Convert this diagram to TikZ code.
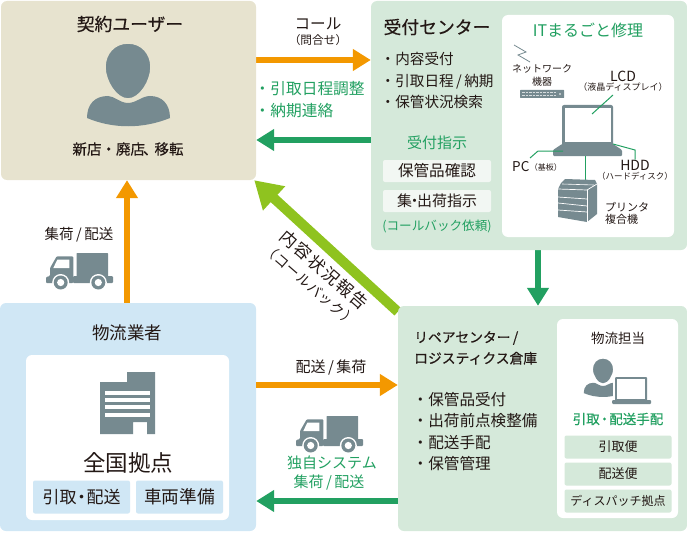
\documentclass[tikz,border=0pt]{standalone}
\usepackage{fontspec}
\setmainfont{Noto Sans CJK JP}
\newfontfamily\medfont[FakeBold=0.4]{Noto Sans CJK JP}
\usetikzlibrary{arrows.meta,backgrounds}

\definecolor{usercol}{HTML}{E7E3CF}
\definecolor{centercol}{HTML}{D5E9DA}
\definecolor{logicol}{HTML}{D0E7F5}
\definecolor{subcol}{HTML}{F2F7F3}
\definecolor{iconcol}{HTML}{768A90}
\definecolor{orangecol}{HTML}{F39800}
\definecolor{greencol}{HTML}{22A061}
\definecolor{limecol}{HTML}{8FC31F}
\definecolor{inkcol}{HTML}{231815}

\tikzset{
	fs/.style={font=\fontsize{#1}{#1}\selectfont, text=inkcol, inner sep=0pt},
	lst/.style={font=\fontsize{#1}{21.5}\selectfont, text=inkcol, inner sep=0pt, align=left, anchor=north west},
	gtxt/.style={text=greencol},
	box/.style n args={3}{fill=#1, rounded corners=6pt, minimum width=#2pt, minimum height=#3pt, inner sep=0pt},
	subbox/.style n args={3}{fill=#1, rounded corners=2pt, minimum width=#2pt, minimum height=#3pt, inner sep=0pt},
	orangearrow/.style={draw=orangecol, line width=6pt, -{Triangle[length=18pt,width=21pt]}},
	greenarrow/.style={draw=greencol, line width=6pt, -{Triangle[length=18pt,width=21pt]}},
	limearrow/.style={draw=limecol, line width=10pt, -{Triangle[length=27pt,width=31pt]}},
	leader/.style={draw=greencol, line width=1pt},
	pics/truck/.style={code={
		\fill[iconcol, rounded corners=1pt] (0,29) -- (0,23) -- (4,22) -- (4,14) -- (10.7,2.3) -- (27.3,2.3) -- (27.3,29) -- cycle;
		\fill[white] (7.3,14) -- (11.3,5.7) -- (23.3,5.7) -- (23.3,14) -- cycle; %window
		\fill[iconcol, rounded corners=0.5pt] (30.7,-1) rectangle (62,27);
		\fill[iconcol, rounded corners=1pt] (27,22) rectangle (67,29);
		\foreach \wx in {14.7,52.3} {
			\fill[white] (\wx,28.5) circle[radius=8.5];
			\fill[iconcol] (\wx,28.5) circle[radius=7];
			\fill[white] (\wx,28.5) circle[radius=3.6];
		}
	}},
	pics/person/.style={code={
		\fill[iconcol] (-41,47) .. controls (-41,33) and (-33,25) .. (-20,25) .. controls (-14,25) and (-8,32) .. (0,32) .. controls (8,32) and (14,25) .. (22,25) .. controls (34,25) and (42,33) .. (42,47) .. controls (15,58) and (-15,58) .. (-41,47) -- cycle;
		\filldraw[fill=iconcol, draw=#1, line width=1.5pt] (0,-28) .. controls (14,-28) and (23,-17) .. (23,-4) .. controls (23,10) and (12,28) .. (0,28) .. controls (-12,28) and (-23,10) .. (-23,-4) .. controls (-23,-17) and (-14,-28) .. (0,-28) -- cycle;
	}}
}

\begin{document}
\begin{tikzpicture}[x=1pt,y=-1pt]
	\useasboundingbox (0,0) rectangle (687,532);

	%big boxes
	\node[box={usercol}{255}{179}] (user) at (128.5,90.5) {};
	\node[box={centercol}{316}{249}] (center) at (529,125.5) {};
	\node[box={logicol}{256}{228}] (logi) at (128,417) {};
	\node[box={centercol}{289}{225}] (repair) at (542.5,418.5) {};

	%white panels
	\node[box={white}{172}{222}] (itpanel) at (588,126) {};
	\node[box={white}{121}{199}] (staffpanel) at (617.5,418.5) {};
	\node[box={white}{203}{165}] (basepanel) at (127.5,437.5) {};

	%user
	\node[fs=17.8] (usertitle) at (130,24) {\medfont 契約ユーザー};
	\pic at (128,71) {person=usercol};
	\node[fs=14.5] (usermove) at (128,149) {\medfont 新店・廃店\kern-2pt、\kern-3pt 移転};

	%call arrows
	\coordinate (callrow) at (0,60);
	\coordinate (replyrow) at (0,140);
	\node[fs=15.6] (calltext) at (318,24) {コール};
	\node[fs=11.7] (callsub) at (318,40) {（問合せ）};
	\node[lst=15.7, gtxt] (replytext) at (254.5,81.5) {・引取日程調整\\・納期連絡};
	\begin{scope}[on background layer]
		\draw[orangearrow] (user.east |- callrow) -- (center.west |- callrow);
		\draw[greenarrow] (center.west |- replyrow) -- (user.east |- replyrow);
		\draw[limearrow] ([yshift=-6pt]repair.north west) -- ([xshift=-2pt]user.south east);
	\end{scope}

	%reception center
	\node[fs=17.8] (centertitle) at (437,27) {\medfont 受付センター};
	\node[lst=14.6] (centerlist) at (380.5,52) {・内容受付\\・引取日程\,/\,納期\\・保管状況検索};
	\node[fs=15, gtxt] (ordertext) at (437,143) {受付指示};
	\node[subbox={subcol}{108}{22}, fs=15.6] (checkbox) at (437,171) {保管品確認};
	\node[subbox={subcol}{108}{22}, fs=15] (shipbox) at (437,201) {集\kern-5pt・\kern-5pt 出荷指示};
	\node[fs=12.6, gtxt] (callback) at (437,226) {(コールバック依頼)};

	%it panel
	\node[fs=16, gtxt] (ittitle) at (588,30) {ITまるごと修理};
	\draw[iconcol, line width=0.8pt] (514,45) -- (526,52) -- (518,55) -- (530,62); %antenna
	\node[fs=10, align=center] (nettext) at (542,75.5) {ネットワーク\\[2.5pt]機器};
	\fill[iconcol, rounded corners=0.5pt] (520,90) rectangle (564,98);
	\draw[white!70!iconcol, line width=1pt, dash pattern=on 2.5pt off 1pt] (522,92.5) -- (556,92.5);
	\draw[white!70!iconcol, line width=1pt, dash pattern=on 2.5pt off 1pt] (522,95.5) -- (556,95.5);
	\fill[white] (560,94) circle[radius=0.8];

	\node[fs=14] (lcdtext) at (623,76) {LCD};
	\node[fs=9] (lcdsub) at (623,87) {（液晶ディスプレイ）};
	\node[fs=13.5, anchor=west] (pctext) at (512,167) {PC};
	\node[fs=8, anchor=west] (pcsub) at (pctext.east) {（基板）};
	\node[fs=14] (hddtext) at (635,165) {HDD};
	\node[fs=8.5] (hddsub) at (635,176) {（ハードディスク）};
	\node[fs=11, align=left, anchor=west] (printtext) at (605,213) {プリンタ\\[1pt]複合機};

	\fill[iconcol, rounded corners=2pt] (562,105) rectangle (613,146); %laptop
	\fill[white] (565,108) rectangle (611,142);
	\fill[iconcol, rounded corners=1pt] (553,150) -- (562,144) -- (613,144) -- (622,150) -- (622,156) -- (553,156) -- cycle;

	\coordinate (screen) at (592,114);
	\coordinate (lcdfoot) at (613,95);
	\coordinate (basel) at (563,151);
	\coordinate (baser) at (613,144);
	\coordinate (basem) at (585,156);
	\coordinate (printertop) at (585,180);
	\draw[leader] (screen) -- (lcdfoot);
	\draw[leader] (basel) -- (538,151) -- (530,158);
	\draw[leader] (baser) -- (635,150) -- (hddtext.north);
	\draw[leader] (basem) -- (printertop);

	\fill[iconcol] (558,189) -- (561,183) -- (565,179) -- (595,180) -- (597,184) -- (597,214) -- (587,222) -- (558,217) -- cycle; %printer
	\draw[white, line width=0.7pt] (558,189) -- (587,190) -- (597,184);
	\draw[white, line width=0.6pt] (562,184) -- (594,185);
	\draw[white, line width=0.7pt] (558,197) -- (587,199);
	\draw[white, line width=0.7pt] (558,203) -- (587,206);
	\draw[white, line width=0.7pt] (558,210) -- (587,212);
	\draw[white, line width=0.5pt] (587,190) -- (587,222);

	%green arrow down
	\begin{scope}[on background layer]
		\draw[greenarrow] (center.south -| 538,0) -- (repair.north -| 538,0);
	\end{scope}

	%lime label
	\node[fs=17, rotate=-41] (reporttext) at (324,270) {\addfontfeature{LetterSpace=10}内容状況報告};
	\node[fs=14, rotate=-41] (reportsub) at (310,285) {\addfontfeature{LetterSpace=5}（コールバック）};

	%logistics
	\draw[orangearrow] (logi.north -| 127,0) -- (user.south -| 127,0);
	\node[fs=14.5] (pickuptext) at (79,235) {集荷\,/\,配送};
	\pic at (46,254) {truck};

	\node[fs=17.5] (logititle) at (127,333) {物流業者};
	\fill[iconcol] (100,382) -- (127,382) -- (127,372) -- (155,372) -- (155,434) -- (147,434) -- (147,422) -- (133,422) -- (133,434) -- (100,434) -- cycle; %building
	\foreach \fy in {391,398,405,413} {
		\fill[white] (105,\fy) rectangle (150,\fy+3.7);
	}
	\node[fs=22.5] (basetext) at (128,463) {全国拠点};
	\node[subbox={logicol}{97}{33}, fs=17] (pickbox) at (81.5,497) {引取\kern-3.5pt・\kern-3.5pt 配送};
	\node[subbox={logicol}{87}{33}, fs=17.7] (carbox) at (179.5,497) {車両準備};

	%lower arrows
	\coordinate (sendrow) at (0,385);
	\coordinate (ownrow) at (0,501);
	\draw[orangearrow] (logi.east |- sendrow) -- (repair.west |- sendrow);
	\draw[greenarrow] (repair.west |- ownrow) -- (logi.east |- ownrow);
	\node[fs=15] (sendtext) at (331,368) {配送\,/\,集荷};
	\pic at (296,417) {truck};
	\node[fs=15, gtxt] (owntext) at (332,463) {独自システム};
	\node[fs=15, gtxt] (ownsub) at (329,483) {集荷\,/\,配送};

	%repair center
	\node[fs=13.8, align=left, anchor=north west, font=\fontsize{13.8}{21}\selectfont] (repairtitle) at (414,331) {\medfont リペアセンター\,/\\\medfont ロジスティクス倉庫};
	\node[lst=15.6] (repairlist) at (412.5,392) {・保管品受付\\・出荷前点検整備\\・配送手配\\・保管管理};

	%staff
	\node[fs=13.5] (stafftitle) at (618,338) {物流担当};
	\pic[scale=0.47] at (603,371) {person=white};
	\fill[white, rounded corners=1pt] (613,375) rectangle (649,405);
	\fill[iconcol, rounded corners=1pt] (615,377) rectangle (647,401);
	\fill[white] (617,379) rectangle (645,399);
	\fill[iconcol, rounded corners=1pt] (612,400) rectangle (651,404);
	\node[fs=13.5, gtxt] (stafforder) at (618,419) {\medfont 引取\kern-2pt・\kern-2pt 配送手配};
	\node[subbox={centercol}{107}{23}, fs=13] (pickcar) at (618,447) {引取便};
	\node[subbox={centercol}{107}{23}, fs=13] (sendcar) at (618,474) {配送便};
	\node[subbox={centercol}{107}{23}, fs=12] (dispatch) at (618,501) {ディスパッチ拠点};
\end{tikzpicture}
\end{document}
